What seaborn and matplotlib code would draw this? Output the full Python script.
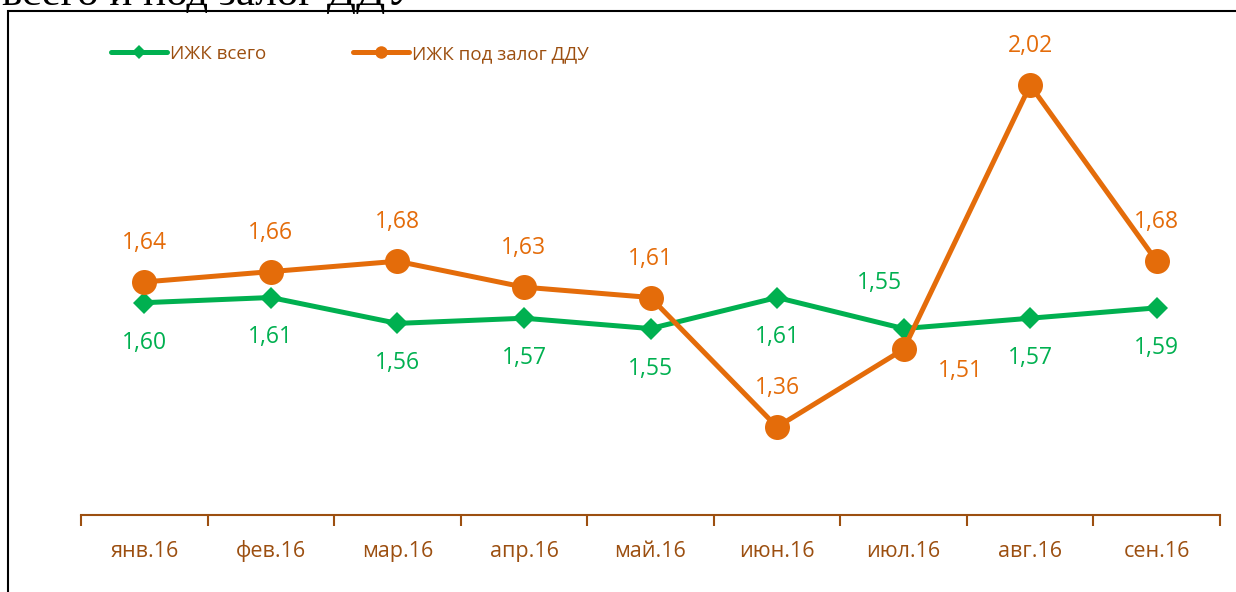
import matplotlib
matplotlib.use("Agg")
import matplotlib.pyplot as plt
import matplotlib.patches as mpatches
import seaborn as sns
import pandas as pd

months = ["янв.16", "фев.16", "мар.16", "апр.16", "май.16",
          "июн.16", "июл.16", "авг.16", "сен.16"]
izhk_total = [1.60, 1.61, 1.56, 1.57, 1.55, 1.61, 1.55, 1.57, 1.59]
izhk_ddu = [1.64, 1.66, 1.68, 1.63, 1.61, 1.36, 1.51, 2.02, 1.68]

green = "#00B050"
orange = "#E46C0A"
brown = "#9C4F10"

sns.set_style("white")
plt.rcParams["font.family"] = ["Open Sans", "DejaVu Sans"]

W, H = 1236, 592
fig = plt.figure(figsize=(W / 100, H / 100), dpi=100)
# axes placed in pixel terms
ax_left, ax_right, ax_bottom, ax_top = 81, 1220, 515, 30
ax = fig.add_axes([ax_left / W, 1 - ax_bottom / H,
                   (ax_right - ax_left) / W, (ax_bottom - ax_top) / H])

df = pd.DataFrame({"month": months, "total": izhk_total, "ddu": izhk_ddu})
x = list(range(len(months)))

sns.lineplot(x=x, y=df["total"], ax=ax, color=green, lw=3.6, marker="D",
             markersize=11, markeredgewidth=0, label="ИЖК всего", zorder=3)
sns.lineplot(x=x, y=df["ddu"], ax=ax, color=orange, lw=3.6, marker="o",
             markersize=18, markeredgewidth=0, label="ИЖК под залог ДДУ", zorder=4)

# y scale: 1.36 -> px 427, ~518 px per unit
ppu = 518
ymin = 1.36 - (ax_bottom - 427) / ppu
ymax = 1.36 + (427 - ax_top) / ppu
ax.set_ylim(ymin, ymax)
ax.set_xlim(-0.5, len(months) - 0.5)

def fmt(v):
    return f"{v:.2f}".replace(".", ",")

green_off = {6: (-24, 46)}
orange_off = {6: (57, -22)}
for i, v in enumerate(izhk_total):
    dx, dy = green_off.get(i, (0, -40))
    ax.annotate(fmt(v), (i, v), xytext=(dx, dy), textcoords="offset pixels",
                ha="center", va="center", color=green, fontsize=16.5)
for i, v in enumerate(izhk_ddu):
    dx, dy = orange_off.get(i, (0, 39))
    ax.annotate(fmt(v), (i, v), xytext=(dx, dy), textcoords="offset pixels",
                ha="center", va="center", color=orange, fontsize=16.5)

for s in ["left", "right", "top"]:
    ax.spines[s].set_visible(False)
ax.spines["bottom"].set_color(brown)
ax.spines["bottom"].set_linewidth(1.5)
ax.set_yticks([])
ax.set_xticks(x)
ax.set_xticklabels(months, color=brown, fontsize=15.5, va="baseline")
ax.set_xticks([i - 0.5 for i in range(len(months) + 1)], minor=True)
ax.tick_params(axis="x", which="major", bottom=True, length=0, pad=30)
ax.tick_params(axis="x", which="minor", bottom=True, length=8, width=1.5,
               color=brown, direction="out")
ax.set_xlabel("")
ax.set_ylabel("")

leg = ax.legend(loc="center left", bbox_to_anchor=(111 / W, 1 - 54 / H),
                bbox_transform=fig.transFigure, ncol=2, frameon=False,
                fontsize=13.5, handlelength=3.0, handletextpad=0.15,
                columnspacing=4.6, borderpad=0, borderaxespad=0)
for t in leg.get_texts():
    t.set_color(brown)
leg.legend_handles[0].set_markersize(7)
leg.legend_handles[1].set_markersize(9)

# outer frame, cut off at right and bottom
fig.patches.append(mpatches.Rectangle((8 / W, -0.1), 1.2, 1.1 - 11 / H,
                                      transform=fig.transFigure, fill=False,
                                      edgecolor="black", lw=1.5, clip_on=False))

# cropped slide title at the very top
fig.text(2 / W, 1 - 5 / H, "всего и под залог ДДУ", family="Liberation Serif",
         fontsize=31, color="black", ha="left", va="baseline")

fig.savefig("out.png", dpi=100)
